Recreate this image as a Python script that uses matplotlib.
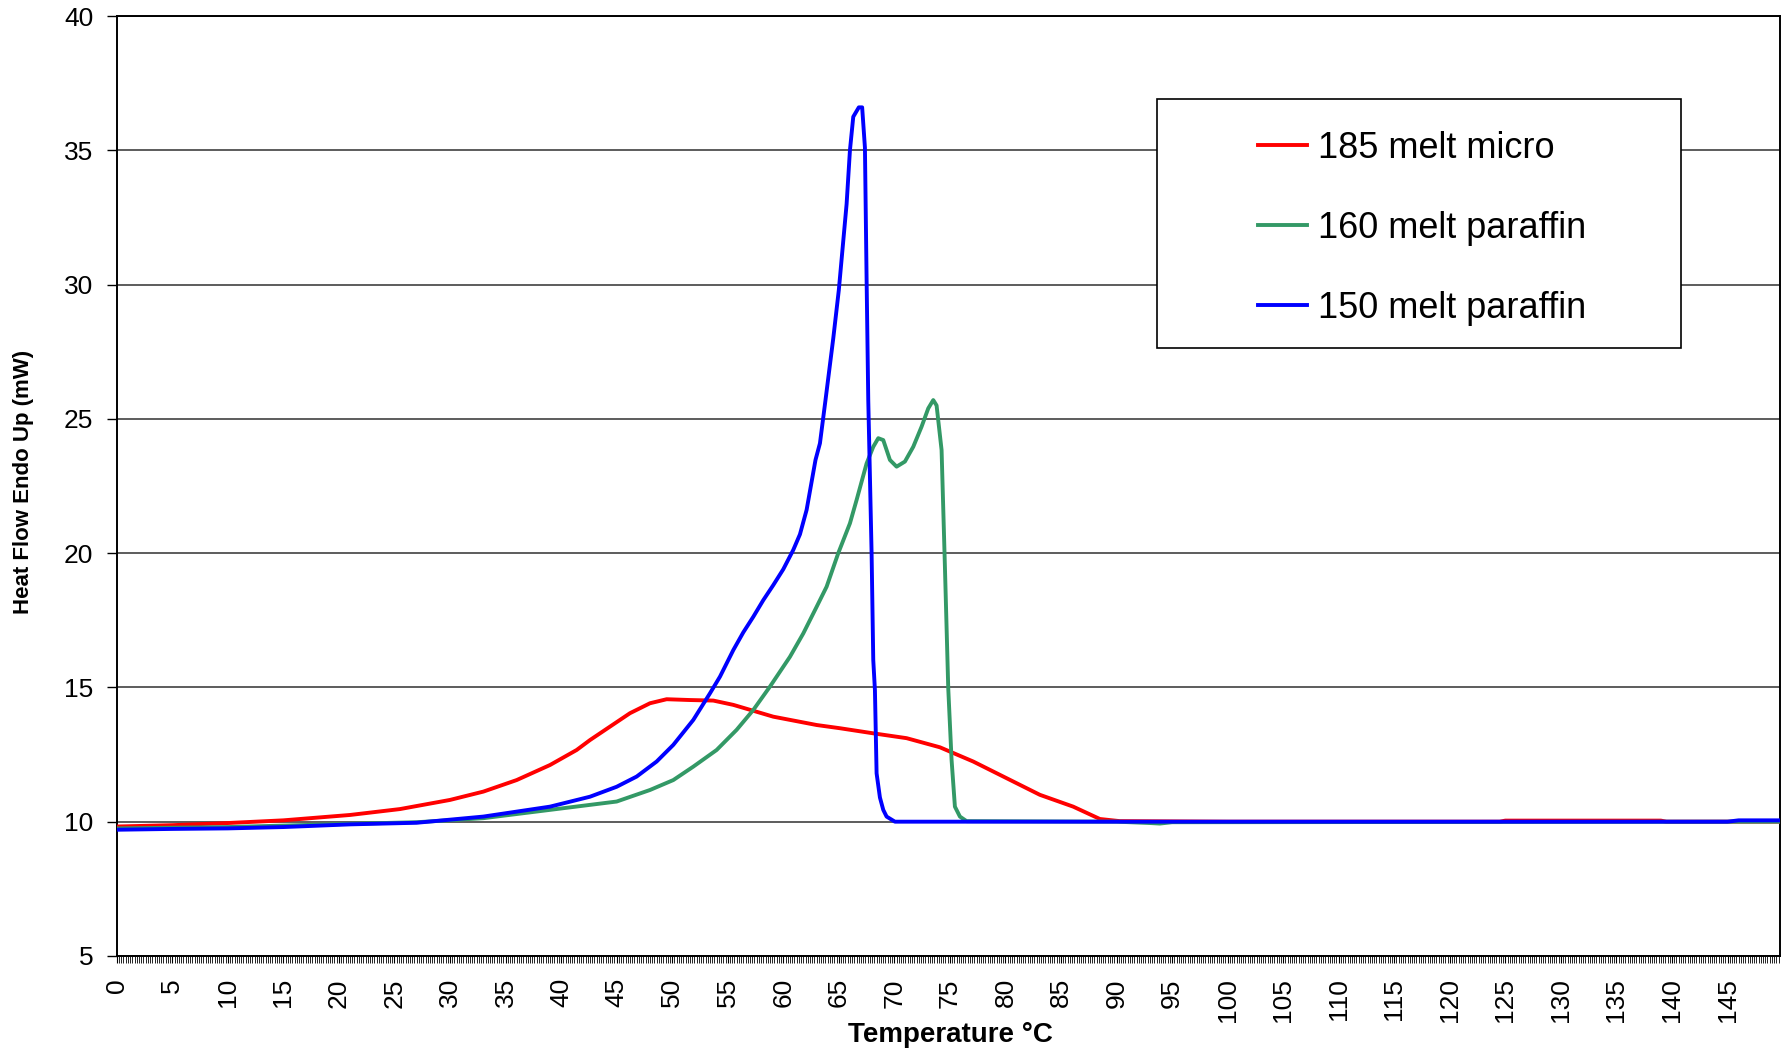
import numpy as np
import matplotlib
matplotlib.use("Agg")
import matplotlib.pyplot as plt
from matplotlib.ticker import MultipleLocator
from matplotlib.patches import Rectangle

# 185 melt micro
red_t = [0, 5, 10, 15, 21, 25.5, 30, 33, 36, 39, 41.4, 42.6, 44.4, 46.2, 48, 49.5,
         51.6, 53.7, 55.5, 59.1, 63, 65.1, 68.1, 71.1, 74.1, 77.1, 80.1, 83.1, 86.1,
         88.5, 90.3, 100, 124.5, 125, 139, 139.5, 149.7]
red_v = [9.82, 9.87, 9.95, 10.05, 10.25, 10.47, 10.81, 11.12, 11.55, 12.11, 12.67, 13.04,
         13.54, 14.04, 14.41, 14.56, 14.53, 14.51, 14.35, 13.91, 13.6, 13.48, 13.29, 13.11,
         12.77, 12.24, 11.62, 11.0, 10.56, 10.1, 10.02, 10.0, 10.0, 10.04, 10.04, 10.0, 10.0]

# 160 melt paraffin
green_t = [0, 10, 21, 27, 33, 39, 45, 48, 50.1, 51.9, 54, 55.8, 57.3, 58.8, 60.6, 61.8,
           63, 63.9, 64.95, 66, 66.6, 67.5, 68.1, 68.55, 69, 69.6, 70.2, 70.95, 71.7,
           72.45, 73.05, 73.5, 73.8, 74.25, 74.55, 74.85, 75.15, 75.45, 75.9, 76.5,
           90, 93, 93.9, 95, 149.7]
green_v = [9.75, 9.8, 9.92, 9.98, 10.13, 10.44, 10.75, 11.18, 11.55, 12.05, 12.67, 13.42,
           14.16, 15.03, 16.14, 17.01, 18.0, 18.75, 20.0, 21.11, 21.98, 23.34, 23.96,
           24.28, 24.21, 23.47, 23.22, 23.41, 23.96, 24.71, 25.39, 25.7, 25.5, 23.84,
           19.5, 14.97, 12.3, 10.56, 10.19, 10.02, 10.0, 9.95, 9.93, 9.98, 10.0]

# 150 melt paraffin
blue_t = [0, 5, 10, 15, 21, 27, 33, 39, 42.6, 45, 46.8, 48.6, 50.1, 51.9, 53.4, 54.3,
          55.5, 56.4, 57.3, 58.2, 59.1, 60.0, 60.9, 61.5, 62.1, 62.9, 63.3, 63.8, 64.5,
          65.0, 65.7, 66.0, 66.3, 66.8, 67.1, 67.35, 67.5, 67.65, 67.95, 68.1, 68.25,
          68.4, 68.7, 69.0, 69.3, 70.05, 145, 146, 149.7]
blue_v = [9.7, 9.73, 9.75, 9.8, 9.9, 9.96, 10.19, 10.56, 10.93, 11.3, 11.68, 12.24, 12.86,
          13.79, 14.78, 15.4, 16.39, 17.05, 17.63, 18.25, 18.81, 19.4, 20.12, 20.7, 21.61,
          23.47, 24.09, 25.7, 28.0, 29.8, 33.0, 35.0, 36.25, 36.6, 36.6, 35.1, 30.2, 25.7,
          20.0, 16.02, 14.9, 11.8, 10.9, 10.44, 10.19, 10.0, 10.0, 10.05, 10.05]

series_names = ["185 melt micro", "160 melt paraffin", "150 melt paraffin"]
series_colors = ["#ff0000", "#339966", "#0000ff"]

plt.rcParams["font.family"] = ["Liberation Sans", "DejaVu Sans"]

fig = plt.figure(figsize=(17.91, 10.49), dpi=100)
ax = fig.add_axes([0.0652, 0.0887, 0.9285, 0.896])

lines = []
for t, v, name, c in zip([red_t, green_t, blue_t], [red_v, green_v, blue_v],
                         series_names, series_colors):
    ln, = ax.plot(t, v, color=c, lw=2.8, label=name, solid_joinstyle="round", zorder=3)
    lines.append(ln)

ax.set_xlim(0, 149.7)
ax.set_ylim(5, 40)
ax.set_yticks(np.arange(5, 41, 5))
ax.set_xticks(np.arange(0, 150, 5))
ax.xaxis.set_minor_locator(MultipleLocator(0.2))

ax.grid(axis="y", color="#303030", lw=1.1)
ax.set_axisbelow(True)
for s in ax.spines.values():
    s.set_color("black")
    s.set_linewidth(1.4)

ax.tick_params(axis="y", which="major", direction="out", length=7, width=1,
               labelsize=19, pad=10)
ax.tick_params(axis="x", which="major", direction="out", length=5, width=0.8,
               labelsize=19, pad=11, labelrotation=90)
ax.tick_params(axis="x", which="minor", direction="out", length=5, width=0.6)

fig.text(0.0134, 0.5405, "Heat Flow Endo Up (mW)", rotation=90, ha="center", va="center",
         fontsize=16, fontweight="bold")
fig.text(0.5305, 0.0135, "Temperature °C", ha="center", va="center",
         fontsize=20, fontweight="bold")

# legend box
ax.add_patch(Rectangle((0.6256, 0.6468), 0.3151, 0.2649, transform=ax.transAxes,
                       facecolor="white", edgecolor="black", lw=1.2, zorder=5))
leg = ax.legend(handles=lines, loc="center", bbox_to_anchor=(0.785, 0.774),
                frameon=False, fontsize=26, handlelength=1.35, handletextpad=0.3,
                labelspacing=1.25)
leg.set_zorder(6)
for h in leg.get_lines():
    h.set_linewidth(2.8)

fig.savefig("out.png", dpi=100)
